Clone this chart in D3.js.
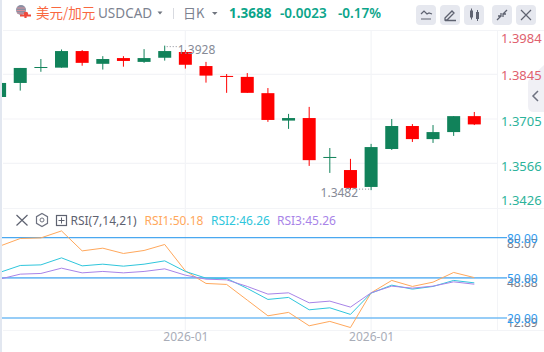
<!DOCTYPE html>
<html>
<head>
<meta charset="utf-8">
<style>
  html, body { margin: 0; padding: 0; background: #fff; }
  svg { display: block; font-family: "Noto Sans", "Noto Sans CJK SC", sans-serif; }
</style>
<script src="https://cdn.jsdelivr.net/npm/d3@7"></script>
</head>
<body>
<div id="chart-area"></div>
<script>
const opens  = [1.3774,1.3818,1.3866,1.3866,1.3918,1.3878,1.3896,1.3884,1.3897,1.3915,1.3871,1.3840,1.3837,1.3786,1.3700,1.3708,1.3583,1.3545,1.3492,1.3611,1.3683,1.3642,1.3664,1.3714];
const closes = [1.3818,1.3865,1.3868,1.3918,1.3881,1.3893,1.3887,1.3896,1.3918,1.3875,1.3841,1.3838,1.3787,1.3702,1.3708,1.3576,1.3586,1.3489,1.3617,1.3683,1.3642,1.3664,1.3714,1.3688];
const highs  = [1.3818,1.3865,1.3893,1.3923,1.3921,1.3902,1.3902,1.3924,1.3935,1.3921,1.3884,1.3846,1.3849,1.3802,1.3721,1.3743,1.3614,1.3580,1.3627,1.3705,1.3689,1.3686,1.3714,1.3727];
const lows   = [1.3774,1.3794,1.3853,1.3866,1.3872,1.3860,1.3869,1.3881,1.3888,1.3863,1.3819,1.3787,1.3787,1.3696,1.3674,1.3558,1.3536,1.3484,1.3482,1.3608,1.3633,1.3630,1.3652,1.3686];

const priceTicks = [1.3984, 1.3845, 1.3705, 1.3566, 1.3426];
const dateTicks = [9, 18];
const dateLabel = "2026-01";

const rsi1 = [73.66,79.4,79.85,85.07,70.15,72.17,68.21,70.45,74.93,55.22,45.82,45.07,33.36,21.64,24.18,14.18,17.46,12.89,38.81,48.06,43.58,46.79,54.03,50.18];
const rsi2 = [54.03,59.25,59.7,64.93,58.96,60.22,58.73,60.22,62.69,54.78,49.78,49.55,42.09,33.88,35.37,26.12,27.61,22.69,38.58,44.55,41.57,43.58,48.06,46.26];
const rsi3 = [49.03,52.76,53.28,57.24,53.73,54.78,53.73,54.78,56.72,52.01,49.03,48.51,43.58,37.84,38.81,31.34,32.61,28.13,38.81,43.81,42.31,43.81,47.01,45.26];
const rsiLevels = [80, 50, 20];
const rsiExtents = ["85.07", "48.88", "12.89"];

const up = "#11825a", down = "#ff0000", grid = "#f3f4f7";

const svg = d3.select("#chart-area").append("svg").attr("width", 544).attr("height", 352);

const x = d3.scaleLinear().domain([0, 23]).range([-0.4, 474.3]);
const y = d3.scaleLinear().domain([1.3984, 1.3426]).range([30, 208]);
const yRsi = d3.scaleLinear().domain([80, 20]).range([237.7, 318]);

svg.append("defs").append("clipPath").attr("id", "plot")
    .append("rect").attr("x", 2).attr("y", 30).attr("width", 496).attr("height", 300);

// left strip and outer panel lines
svg.append("rect").attr("width", 2).attr("height", 352).attr("fill", "#e2e7f0");
svg.append("path").attr("d", "M3,30.5H544M3,208.5H544M3,330.5H544M497.5,30V331")
    .attr("stroke", grid).attr("fill", "none");

// right collapse tab, sits under the price labels
svg.append("path").attr("d", "M544,65L530,78Q528,80 528,84V106Q528,112 534,112H544Z").attr("fill", "#f0f0f5");
svg.append("path").attr("d", "M538,91L533,96L538,101").attr("fill", "none").attr("stroke", "#6e7280").attr("stroke-width", 1.5);

// price grid + labels
const priceAxis = d3.axisRight(y).tickValues(priceTicks).tickSize(0).tickPadding(0).tickFormat(d3.format(".4f"));
const priceGroup = svg.append("g").attr("transform", "translate(501,0)").call(priceAxis);
priceGroup.select(".domain").remove();
priceGroup.selectAll("text")
    .attr("font-size", 13).attr("font-family", "Noto Sans")
    .attr("fill", (d) => d > 1.38 ? "#e0616e" : "#2db39b")
    .attr("dy", (d, i) => [12, 5, 6, 7, -4][i]);

svg.append("g").selectAll("line").data(priceTicks.slice(1, 4)).enter().append("line")
    .attr("x1", 3).attr("x2", 497)
    .attr("y1", (d) => y(d)).attr("y2", (d) => y(d))
    .attr("stroke", grid).attr("stroke-width", 1.2);

// date axis and vertical grid
svg.append("g").selectAll("line").data(dateTicks).enter().append("line")
    .attr("x1", (d) => x(d)).attr("x2", (d) => x(d))
    .attr("y1", 30).attr("y2", 331)
    .attr("stroke", grid).attr("stroke-width", 1.2);

const dateAxis = d3.axisBottom(x).tickValues(dateTicks).tickSize(0).tickPadding(0).tickFormat(() => dateLabel);
const dateGroup = svg.append("g").attr("transform", "translate(0,332)").call(dateAxis);
dateGroup.select(".domain").remove();
dateGroup.selectAll("text").attr("font-size", 12).attr("font-family", "Noto Sans").attr("fill", "#a9adb8");

// candles
const candles = svg.append("g").attr("clip-path", "url(#plot)");
const idx = d3.range(opens.length);
const color = (i) => closes[i] >= opens[i] ? up : down;

candles.selectAll(".wick").data(idx).enter().append("line")
    .attr("class", "wick")
    .attr("x1", (i) => x(i)).attr("x2", (i) => x(i))
    .attr("y1", (i) => y(highs[i])).attr("y2", (i) => y(lows[i]))
    .attr("stroke", color).attr("stroke-width", 1);

candles.selectAll(".body").data(idx).enter().append("rect")
    .attr("class", "body")
    .attr("x", (i) => x(i) - 6.5)
    .attr("y", (i) => y(Math.max(opens[i], closes[i])))
    .attr("width", 13)
    .attr("height", (i) => Math.max(1, Math.abs(y(opens[i]) - y(closes[i]))))
    .attr("fill", color);

// high / low marks
const hi = d3.maxIndex(highs), lo = d3.minIndex(lows);
svg.append("text").attr("x", x(hi) + 13).attr("y", y(highs[hi]) + 8)
    .attr("font-size", 12).attr("fill", "#868a96").text("1.3928");
svg.append("path").attr("d", "M" + (x(hi) + 2) + "," + (y(highs[hi]) + 1) + "h10")
    .attr("stroke", "#868a96").attr("stroke-dasharray", "1 2");
svg.append("text").attr("x", x(lo) - 13).attr("y", y(lows[lo]) + 7).attr("text-anchor", "end")
    .attr("font-size", 12).attr("fill", "#868a96").text("1.3482");
svg.append("path").attr("d", "M" + (x(lo) - 12) + "," + (y(lows[lo]) - 1) + "h10")
    .attr("stroke", "#868a96").attr("stroke-dasharray", "1 2");

// rsi level lines
svg.append("g").selectAll("line").data(rsiLevels).enter().append("line")
    .attr("x1", 2).attr("x2", 507)
    .attr("y1", (d) => yRsi(d)).attr("y2", (d) => yRsi(d))
    .attr("stroke", (d) => d == 80 ? "#4aa8f0" : "#74bcf4").attr("stroke-width", (d) => d == 80 ? 1.2 : 1.7);

const rsiLine = d3.line().x((d, i) => x(i)).y((d) => yRsi(d));
[[rsi1, "#ffa85c"], [rsi2, "#2fc6dc"], [rsi3, "#a884e8"]].forEach(([vals, col]) => {
  svg.append("path").datum(vals)
      .attr("clip-path", "url(#plot)")
      .attr("d", rsiLine).attr("fill", "none").attr("stroke", col).attr("stroke-width", 1);
});

// rsi right labels, they do overlap in the original
svg.append("g").selectAll("text").data(rsiExtents).enter().append("text")
    .attr("x", 507).attr("y", (d, i) => yRsi(rsiLevels[i]) + [10, 9.5, 9][i])
    .attr("font-size", 12).attr("fill", "#7d818c").text((d) => d);
svg.append("g").selectAll("text").data(rsiLevels).enter().append("text")
    .attr("x", 507).attr("y", (d) => yRsi(d) + 5)
    .attr("font-size", 12).attr("fill", "#2f9bf0").text((d) => d3.format(".2f")(d));

// header
const flag = svg.append("g");
flag.append("circle").attr("cx", 21).attr("cy", 10).attr("r", 5).attr("fill", "#8a8fa3");
flag.append("path").attr("d", "M17,8h8M16.5,10.5h9M17,13h8").attr("stroke", "#d9919a").attr("stroke-width", 1);
flag.append("path").attr("d", "M20,15.5h11M25.5,12v6").attr("stroke", "#ef4a3c").attr("stroke-width", 2.2);
flag.append("circle").attr("cx", 26).attr("cy", 14).attr("r", 2.2).attr("fill", "#ef4a3c");

const headerText = (tx, t, size, fill, weight) => svg.append("text").attr("x", tx).attr("y", 18)
    .attr("font-size", size).attr("fill", fill).attr("font-weight", weight || 400).text(t);
svg.append("text").attr("x", 36).attr("y", 18).attr("font-size", 13.5)
    .attr("font-family", "Noto Sans CJK SC").attr("fill", "#f9683f").text("美元/加元");
headerText(98, "USDCAD", 13.5, "#7c8290");
svg.append("path").attr("d", "M157.5,11.5h5l-2.5,3z").attr("fill", "#70757f");
svg.append("path").attr("d", "M173.5,8V19").attr("stroke", "#d8dae0");
svg.append("text").attr("x", 183).attr("y", 18).attr("font-size", 13).attr("fill", "#7c8290")
    .attr("font-family", "Noto Sans CJK SC").text("日K");
svg.append("path").attr("d", "M212,12h5.5l-2.7,3z").attr("fill", "#70757f");
headerText(229, "1.3688", 13.5, "#0ca58a", 700);
headerText(280, "-0.0023", 13.5, "#0ca58a", 600);
headerText(338, "-0.17%", 13.5, "#0ca58a", 600);

// toolbar buttons
const btnX = [416, 440, 464, 492, 516];
svg.append("g").selectAll("rect").data(btnX).enter().append("rect")
    .attr("x", (d) => d).attr("y", 5).attr("width", 20).attr("height", 20).attr("rx", 4).attr("fill", "#e6e8ef");
const ink = "#5e6270";
const icon = (d, w) => svg.append("path").attr("d", d).attr("fill", "none").attr("stroke", ink).attr("stroke-width", w || 1.2);
icon("M421,14l3,-3l3,3l2,-1l3,1M421,19h10");
icon("M445,18l7,-7l2,2l-7,7h-2zM445,20.5h11", 1.3);
svg.append("path").attr("d", "M470,10.5h3v7h-3zM471,8.5h1v11h-1zM476,12h3v7h-3zM477,10h1v11h-1z").attr("fill", ink);
icon("M497,20l4,-4M503,14l4,-4M501,13v3h-3M503,17v-3h3", 1.3);
icon("M521,10l10,10M531,10l-10,10", 1.2);

// rsi legend
icon("M16.5,215l11,10.5M27.5,215l-11,10.5", 1.2);
svg.append("path").attr("d", "M42,213.5l5.5,3.2v6.6l-5.5,3.2l-5.5,-3.2v-6.6z").attr("fill", "none").attr("stroke", "#6e7280").attr("stroke-width", 1.2);
svg.append("circle").attr("cx", 42).attr("cy", 220).attr("r", 2).attr("fill", "none").attr("stroke", "#6e7280");
svg.append("rect").attr("x", 56.5).attr("y", 215.5).attr("width", 10).attr("height", 10).attr("fill", "none").attr("stroke", "#5e6270").attr("stroke-width", 1.2);
svg.append("path").attr("d", "M61.5,217.5v6M58.5,220.5h6").attr("stroke", "#5e6270");
const legend = [[70.5, "RSI(7,14,21)", "#5e6270"], [144.5, "RSI1:50.18", "#ffa85c"], [211, "RSI2:46.26", "#2fc6dc"], [277, "RSI3:45.26", "#a884e8"]];
svg.append("g").selectAll("text").data(legend).enter().append("text")
    .attr("x", (d) => d[0]).attr("y", 225).attr("font-size", 12).attr("fill", (d) => d[2]).text((d) => d[1]);
</script>
</body>
</html>
